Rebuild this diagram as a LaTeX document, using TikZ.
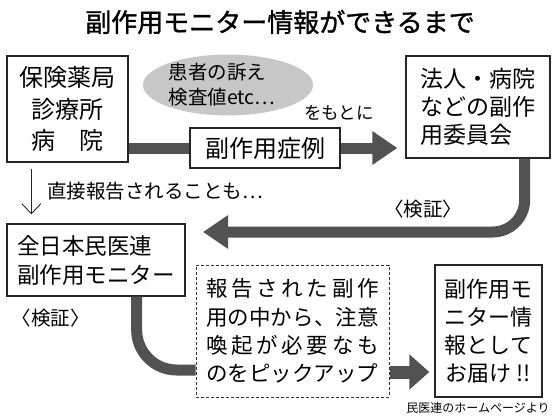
\documentclass[tikz,border=0pt]{standalone}
\usepackage{fontspec}
\newfontfamily\jp{Noto Sans CJK JP}
\newfontfamily\jptitle[FakeBold=1.2]{Noto Sans CJK JP}
\usetikzlibrary{arrows.meta, shapes.geometric}

\begin{document}
\begin{tikzpicture}[
  x=1pt, y=-1pt,
  every node/.style={font=\jp, inner sep=0pt},
  box/.style={draw=black!85, line width=1.3pt, fill=white},
  pickbox/.style={draw=black!80, line width=1pt, dash pattern=on 3pt off 2pt},
  bigline/.style={draw=black!68, line width=11pt},
  bigarr/.style={bigline, -{Triangle[length=25pt,width=32pt]}},
  thinarr/.style={draw=black!85, line width=0.9pt, -{Straight Barb[length=10pt,width=19pt]}},
  lbl/.style={font={\jp\fontsize{19.5}{24}\selectfont}},
]
  \useasboundingbox (0,0) rectangle (560,420);

  \node[font={\jptitle\fontsize{26}{30}\selectfont}] (title) at (280,22) {副作用モニター情報ができるまで};

  % boxes
  \node[box, minimum width=121pt, minimum height=106pt, align=center,
        font={\jp\fontsize{24}{31.5}\selectfont}] (src) at (67.5,109) {保険薬局\\診療所\\病　院};
  \node[ellipse, fill=black!22, minimum width=170pt, minimum height=60pt, align=left,
        font={\jp\fontsize{19.5}{25}\selectfont}] (pat) at (228,85) {患者の訴え\\検査値etc⋯\hspace*{12pt}};
  \node[font={\jp\fontsize{17.5}{20}\selectfont}] (base) at (339,113) {をもとに};
  \node[box, minimum width=150pt, minimum height=40pt,
        font={\jp\fontsize{24}{28}\selectfont}] (case) at (265,148) {副作用症例};
  \node[box, minimum width=144pt, minimum height=102pt, align=left,
        font={\jp\fontsize{23}{28}\selectfont}] (com) at (478,107) {法人・病院\\などの副作\\用委員会};
  \node[lbl, anchor=west] (direct) at (47,191) {直接報告されることも⋯};
  \node[box, minimum width=178pt, minimum height=72pt, align=left,
        font={\jp\fontsize{22.5}{29}\selectfont}] (nms) at (96,260) {全日本民医連\\副作用モニター};
  \node[pickbox, minimum width=193pt, minimum height=132pt, align=left,
        font={\jp\fontsize{21.5}{28.3}\selectfont}] (pick) at (292.5,331)
    {\hbox to 173pt{報\hfil 告\hfil さ\hfil れ\hfil た\hfil 副\hfil 作}\\
     \hbox to 173pt{用\hfil の\hfil 中\hfil か\hfil ら\hfil 、\hfil 注\hfil 意}\\
     \hbox to 173pt{喚\hfil 起\hfil が\hfil 必\hfil 要\hfil な\hfil も}\\
     のをピックアップ};
  \node[box, minimum width=107pt, minimum height=132pt, align=center,
        font={\jp\fontsize{22}{28}\selectfont}] (final) at (488.5,331) {副作用モ\\ニター情\\報として\\お届け !!};

  \node[lbl] (chk1) at (423,209) {〈検証〉};
  \node[lbl] (chk2) at (51,318) {〈検証〉};
  \node[font={\jp\fontsize{12}{14}\selectfont}] (credit) at (478,408) {民医連のホームページより};

  \coordinate (back) at (203,232);

  % connectors
  \draw[bigline] (src.east |- case.west) -- (case.west);
  \draw[bigarr, shorten >=8pt] (case.east) -- (com.west |- case.east);
  \draw[bigarr, rounded corners=32pt] ([xshift=-26pt]com.south east) |- (back);
  \draw[thinarr] ([xshift=25pt,yshift=-6pt]src.south west) -- ([xshift=25pt,yshift=9pt]nms.north west);
  \draw[bigline, rounded corners=40pt] ([xshift=-49pt]nms.south east) |- ([yshift=-39pt]pick.west);
  \draw[bigline, line width=13pt, -{Triangle[length=20pt,width=34pt]}, shorten >=5pt]
    ([yshift=-41pt]pick.east) -- ([yshift=-41pt]final.west);
\end{tikzpicture}
\end{document}
